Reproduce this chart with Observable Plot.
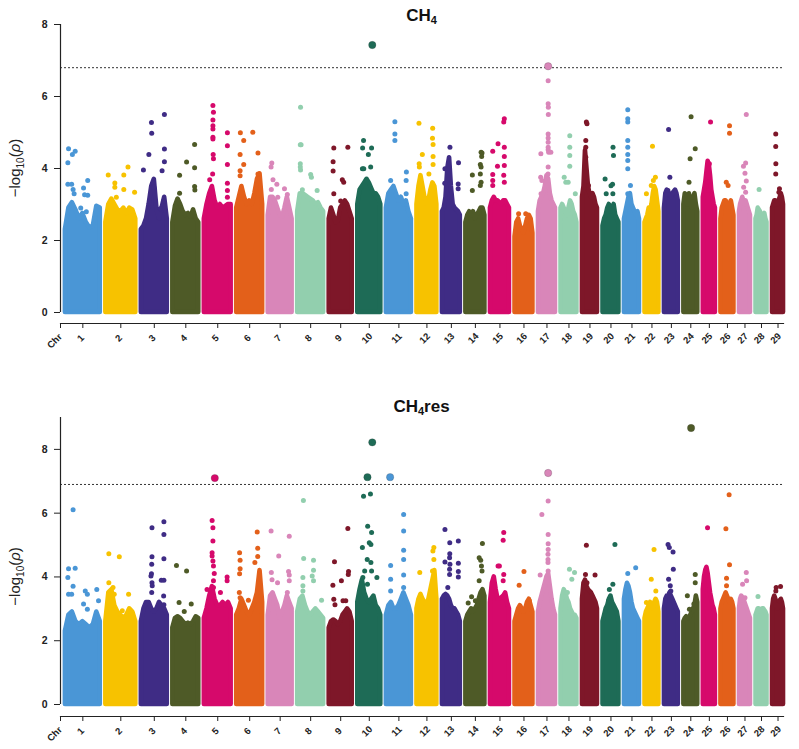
<!DOCTYPE html>
<html><head><meta charset="utf-8">
<script src="https://cdn.jsdelivr.net/npm/d3@7"></script>
<script src="https://cdn.jsdelivr.net/npm/@observablehq/plot@0.6"></script>
<style>
body{margin:0;background:#fff;font-family:"Liberation Sans",Arial,sans-serif;}
#wrap{position:relative;width:799px;height:749px;overflow:hidden;background:#fff;}
.title{position:absolute;left:60px;width:723px;text-align:center;font-weight:bold;font-size:17px;color:#111;line-height:1;}
.title sub{font-size:11px;vertical-align:baseline;position:relative;top:3px;}
.panel{position:absolute;left:0;}
</style></head>
<body><div id="wrap"></div>
<script>
// ---------- data ----------
const chromosomes = d3.range(1, 30);
const chrLengthMb = [156,134,116,116,120,116,107,116,103,103,112,89,80,85,85,80,76,71,67,71,67,62,62,62,54,58,49,49,49];
const chrColors = ["#4a96d6","#f7c200","#3f2c85","#4e5a27","#d6096b","#e3601a","#d986b9","#92cfae","#7e1729","#1e6b56"];
const ch4Threshold = 6.8;
const resThreshold = 6.9;

// upper edge of the dense SNP mass, sampled evenly along each chromosome
const ch4Envelope = [
[2.3,2.9,3.05,2.85,2.6,2.75,2.5,2.35,2.4,2.95,2.9],
[2.5,3.0,3.15,3.0,2.85,2.8,2.9,2.75,2.9,2.85,2.6],
[2.3,2.4,2.6,3.0,3.5,3.7,2.9,2.6,2.9,3.2,2.6],
[2.5,2.95,3.15,3.0,2.8,2.7,2.75,2.65,2.85,2.6,2.5],
[2.6,3.0,3.3,3.5,3.1,2.9,3.0,2.9,2.95,3.0,3.0],
[2.9,3.2,3.5,3.2,3.0,3.1,3.0,3.3,3.7,3.85,3.0],
[2.7,3.2,3.2,3.1,2.9,2.7,2.65,2.9,3.2,2.9,2.6],
[2.8,3.3,3.3,3.25,3.2,3.15,3.1,3.0,3.05,2.9,2.8],
[2.6,2.9,2.7,2.5,2.55,2.9,3.0,3.1,3.0,2.8,2.6],
[3.0,3.4,3.5,3.6,3.7,3.6,3.45,3.3,3.3,3.2,3.0],
[2.9,3.3,3.4,3.5,3.3,3.1,3.2,3.0,3.1,2.8,2.6],
[3.0,3.5,3.8,3.5,3.2,3.0,3.1,3.4,3.6,3.5,3.0],
[2.8,2.9,3.2,4.0,4.3,3.5,3.0,2.9,2.85,2.8,2.7],
[2.5,2.7,2.8,2.7,2.8,2.6,2.7,2.8,2.9,2.9,2.7],
[2.9,3.1,3.2,3.1,3.1,3.05,3.0,3.1,3.1,3.0,2.9],
[2.1,2.5,2.6,2.4,2.3,2.2,2.4,2.6,2.7,2.6,2.2],
[2.8,3.1,3.2,3.3,3.5,3.8,3.7,3.3,3.1,3.0,2.9],
[2.9,3.0,2.9,2.8,2.7,2.9,3.1,3.0,2.8,2.7,2.5],
[3.2,3.5,4.5,4.0,3.5,3.3,3.2,3.3,3.2,3.0,2.9],
[2.4,2.6,2.7,2.9,3.0,2.8,2.9,3.0,2.7,2.6,2.5],
[2.6,2.8,3.0,3.2,3.3,3.0,2.9,2.8,2.7,2.8,2.6],
[2.5,2.6,2.7,2.9,2.8,3.0,3.3,3.5,3.4,3.1,2.8],
[2.9,3.3,3.4,3.3,3.3,3.2,3.3,3.35,3.4,3.3,3.1],
[3.0,3.3,3.2,3.0,3.3,3.0,2.9,3.2,3.3,3.0,2.8],
[3.2,3.4,3.6,3.9,4.2,4.1,3.8,3.4,3.2,3.0,2.9],
[2.6,2.9,3.0,3.1,3.1,3.0,2.9,3.0,3.1,2.9,2.7],
[2.8,3.0,3.1,3.2,3.1,3.0,3.1,3.0,2.9,2.8,2.7],
[2.6,2.7,2.9,2.85,2.8,2.7,2.6,2.7,2.75,2.6,2.5],
[2.9,3.0,3.1,3.1,3.0,3.0,3.1,3.2,3.3,3.2,3.0]
];

// scattered SNPs above the mass: [chromosome, relative position, -log10 p]
const ch4Hits = [
[1,.09,4.55],[1,.07,4.16],[1,.2,4.39],[1,.28,4.48],[1,.07,3.56],[1,.18,3.56],[1,.22,3.42],[1,.52,3.46],[1,.64,3.67],[1,.55,3.27],[1,.64,3.26],[1,.25,3.3],[1,.44,2.9],[1,.6,2.8],
[2,.08,3.82],[2,.3,3.6],[2,.3,3.48],[2,.6,3.82],[2,.74,4.04],[2,.6,3.42],[2,.96,3.34],[2,.35,3.2],
[3,.08,3.96],[3,.29,4.39],[3,.39,5.28],[3,.4,4.98],[3,.89,5.5],[3,.89,4.54],[3,.89,4.19],[3,.46,3.59],[3,.48,3.48],[3,.8,3.94],[3,.86,3.1],[3,.73,2.88],
[4,.26,3.81],[4,.26,3.31],[4,.53,4.18],[4,.84,4.67],[4,.84,4.02],[4,.84,3.5],[4,.85,3.4],
[5,.32,5.75],[5,.34,5.56],[5,.32,5.35],[5,.32,5.19],[5,.32,5.1],[5,.32,4.87],[5,.32,4.82],[5,.33,4.39],[5,.34,4.27],[5,.31,3.85],[5,.2,3.69],[5,.86,4.99],[5,.86,4.63],[5,.86,4.11],[5,.86,3.59],[5,.86,3.39],[5,.86,3.2],
[6,.14,4.99],[6,.27,4.78],[6,.13,4.39],[6,.27,4.11],[6,.13,3.94],[6,.13,3.8],[6,.62,5.01],[6,.82,4.43],[6,.82,3.85],
[7,.15,4.15],[7,.12,4.04],[7,.2,3.69],[7,.36,3.56],[7,.13,3.42],[7,.4,3.2],[7,.68,3.44],[7,.8,3.28],[7,.8,3.04],
[8,.11,5.7],[8,.13,4.66],[8,.1,4.66],[8,.1,4.13],[8,.1,4.04],[8,.11,3.96],[8,.5,3.83],[8,.53,3.76],[8,.18,3.41],[8,.75,3.39],
[9,.2,4.57],[9,.17,4.19],[9,.17,3.93],[9,.81,4.59],[9,.57,3.69],[9,.63,3.62],[9,.2,3.3],[9,.5,3.1],
[10,.63,7.43],[10,.25,4.78],[10,.6,4.57],[10,.21,4.57],[10,.46,4.39],[10,.2,3.99],[10,.26,3.99],[10,.56,4.04],[10,.8,3.2],
[11,.34,5.3],[11,.34,4.96],[11,.34,4.78],[11,.8,3.9],[11,.79,3.67],[11,.79,3.3],[11,.8,3.0],[11,.17,3.67],
[12,.1,5.26],[12,.79,5.12],[12,.78,4.84],[12,.81,4.67],[12,.27,4.39],[12,.81,4.33],[12,.81,4.11],[12,.11,4.13],[12,.12,4.04],[12,.6,3.85],
[13,.42,4.59],[13,.9,4.16],[13,.14,3.99],[13,.13,3.59],[13,.88,3.57],[13,.88,3.44],
[14,.8,4.45],[14,.85,4.43],[14,.83,4.33],[14,.76,4.11],[14,.8,4.04],[14,.34,3.82],[14,.76,3.85],[14,.8,3.62],[14,.76,3.53],[14,.34,3.39],
[15,.73,5.38],[15,.7,5.29],[15,.4,4.69],[15,.12,4.48],[15,.73,4.59],[15,.73,4.33],[15,.73,4.08],[15,.37,4.06],[15,.12,3.83],[15,.7,3.81],[15,.12,3.67],[15,.73,3.62],[15,.12,3.53],
[16,.2,2.74],[16,.6,2.74],
[17,.57,6.84],[17,.57,6.44],[17,.57,5.8],[17,.58,5.7],[17,.58,5.5],[17,.57,4.96],[17,.57,4.85],[17,.57,4.73],[17,.57,4.59],[17,.57,4.52],[17,.6,4.45],[17,.73,4.45],[17,.14,4.41],[17,.57,4.04],[17,.56,3.85],[17,.13,3.76],[17,.2,3.67],[17,.15,3.3],
[18,.55,4.91],[18,.55,4.59],[18,.55,4.36],[18,.55,4.06],[18,.2,3.76],[18,.3,3.62],[18,.45,3.62],[18,.9,3.3],
[19,.26,5.29],[19,.3,5.24],[19,.22,4.78],[19,.22,4.59],[19,.22,4.31],[19,.4,3.53],
[20,.63,4.59],[20,.66,4.36],[20,.13,3.71],[20,.5,3.52],[20,.6,3.56],[20,.2,3.3],[20,.62,3.3],
[21,.22,5.63],[21,.22,5.38],[21,.22,5.29],[21,.22,4.78],[21,.22,4.59],[21,.22,4.39],[21,.22,4.22],[21,.22,3.99],[21,.4,3.53],[21,.22,3.3],
[22,.54,4.62],[22,.6,3.67],[22,.75,3.76],[22,.1,3.3],[22,.45,3.53],
[23,.3,5.08],[23,.39,3.76],[23,.25,3.39],
[24,.52,5.44],[24,.82,4.55],[24,.45,4.27],[24,.37,3.62],[24,.6,3.2],
[25,.6,5.29],[25,.5,4.13],[25,.4,3.62],[25,.45,3.39],
[26,.66,5.19],[26,.66,4.98],[26,.41,3.62],[26,.55,3.53],
[27,.62,5.5],[27,.56,4.15],[27,.36,4.06],[27,.5,3.87],[27,.62,3.65],[27,.38,3.48],[27,.56,3.34],
[28,.28,3.42],
[29,.29,4.96],[29,.29,4.61],[29,.3,4.13],[29,.29,3.85],[29,.63,3.44],[29,.58,3.34]
];

const resEnvelope = [
[2.3,2.8,2.9,2.6,2.5,2.6,2.5,2.4,2.5,2.9,2.6],
[2.6,3.5,3.6,3.1,2.9,2.8,2.7,2.8,3.0,2.9,2.6],
[2.6,3.0,3.2,3.2,3.0,2.9,3.0,3.2,3.1,3.0,2.8],
[2.4,2.7,2.75,2.7,2.6,2.5,2.55,2.5,2.6,2.75,2.7],
[2.7,3.0,3.4,3.7,3.3,3.1,3.1,3.2,3.1,3.2,3.0],
[2.8,3.0,3.3,3.1,2.9,2.8,3.0,3.2,3.5,4.2,3.2],
[2.8,3.4,3.5,3.3,3.1,2.7,2.9,3.1,3.4,3.2,3.0],
[2.9,3.3,3.4,3.1,2.9,2.8,2.9,3.0,2.9,2.8,2.7],
[2.4,2.6,2.65,2.6,2.5,2.6,2.8,2.9,3.0,2.9,2.6],
[3.2,3.6,3.9,3.5,3.3,3.2,3.3,3.4,3.1,3.0,2.8],
[2.8,3.1,3.2,3.0,3.0,3.1,3.3,3.5,3.3,3.1,2.8],
[3.0,3.3,3.45,3.3,3.2,3.1,3.3,3.6,3.9,4.2,3.3],
[3.3,3.4,3.45,3.4,3.3,3.1,3.0,3.0,2.9,2.8,2.6],
[2.6,2.8,2.9,3.0,2.9,3.0,3.1,3.3,3.5,3.6,3.4],
[3.2,3.8,4.0,3.6,3.3,3.3,3.35,3.4,3.5,3.2,3.0],
[2.6,2.8,3.0,3.1,3.0,2.9,3.0,3.2,3.3,3.1,2.9],
[2.9,3.2,3.4,3.6,3.8,4.0,4.1,3.7,3.3,3.0,2.8],
[3.0,3.4,3.6,3.5,3.3,3.2,3.0,2.9,2.8,2.8,2.7],
[3.3,3.8,3.9,3.7,3.6,3.55,3.5,3.4,3.3,3.2,3.0],
[2.6,2.8,3.0,3.1,3.3,3.4,3.2,3.1,3.0,2.9,2.6],
[3.3,3.6,3.8,3.7,3.5,3.2,3.0,2.9,2.8,2.7,2.6],
[2.7,2.9,3.0,3.1,3.2,3.1,3.0,3.2,3.3,3.2,2.9],
[3.0,3.3,3.4,3.4,3.5,3.4,3.3,3.2,3.1,3.0,2.9],
[2.6,2.7,2.75,2.7,2.7,2.8,2.9,3.0,3.1,3.4,3.2],
[3.6,4.0,4.2,4.3,4.1,3.8,3.5,3.3,3.1,3.0,2.8],
[3.0,3.2,3.3,3.4,3.5,3.4,3.3,3.2,3.3,3.2,3.0],
[3.0,3.3,3.4,3.35,3.3,3.2,3.1,3.0,2.9,2.8,2.7],
[2.8,2.9,3.0,3.0,2.9,2.9,3.0,3.0,2.95,2.9,2.8],
[3.0,3.3,3.4,3.3,3.1,3.0,3.1,3.2,3.3,3.2,3.0]
];

const resHits = [
[1,.22,6.11],[1,.09,4.26],[1,.28,4.27],[1,.07,3.98],[1,.22,3.71],[1,.09,3.46],[1,.18,3.46],[1,.57,3.56],[1,.63,3.46],[1,.52,3.15],[1,.9,3.61],[1,.95,3.25],[1,.63,2.99],
[2,.1,4.73],[2,.45,4.63],[2,.1,3.82],[2,.24,3.67],[2,.28,3.46],[2,.76,3.46],[2,.55,2.94],
[3,.41,5.54],[3,.87,5.73],[3,.87,5.33],[3,.41,4.63],[3,.4,4.4],[3,.39,4.1],[3,.37,4.03],[3,.41,3.82],[3,.42,3.72],[3,.4,3.51],[3,.77,3.9],[3,.87,3.9],[3,.87,4.57],[3,.86,3.4],[3,.87,3.13],
[4,.14,4.36],[4,.53,4.19],[4,.24,3.2],[4,.44,2.92],[4,.71,3.15],
[5,.39,7.1],[5,.29,5.77],[5,.32,5.54],[5,.32,5.13],[5,.29,4.76],[5,.29,4.66],[5,.32,4.5],[5,.34,4.34],[5,.37,4.11],[5,.34,3.88],[5,.34,3.67],[5,.1,3.61],[5,.85,4.0],[5,.85,3.88],[5,.6,3.51],
[6,.11,4.76],[6,.13,4.52],[6,.13,4.26],[6,.11,4.1],[6,.79,5.41],[6,.81,4.9],[6,.81,4.64],[6,.7,4.45],[6,.1,3.51],[6,.13,3.35],[6,.45,3.27],
[7,.12,5.44],[7,.44,4.66],[7,.13,4.14],[7,.16,3.91],[7,.39,3.82],[7,.88,5.28],[7,.85,4.17],[7,.88,4.06],[7,.88,3.88],[7,.8,3.51],
[8,.22,6.4],[8,.23,4.58],[8,.61,4.52],[8,.61,4.21],[8,.56,4.03],[8,.2,3.98],[8,.61,3.88],[8,.2,3.72],[8,.2,3.56],[8,.92,3.27],
[9,.81,5.52],[9,.23,4.48],[9,.16,3.74],[9,.53,3.88],[9,.84,4.17],[9,.83,4.08],[9,.2,3.3],[9,.25,3.13],[9,.6,3.25],[9,.72,3.25],
[10,.63,8.22],[10,.42,7.13],[10,.25,6.53],[10,.55,6.6],[10,.43,5.59],[10,.6,5.39],[10,.5,5.07],[10,.57,5.02],[10,.2,4.92],[10,.41,4.55],[10,.57,4.45],[10,.3,4.19],[10,.6,4.19],[10,.83,3.98],[10,.22,3.98],[10,.42,3.77],
[11,.15,7.13],[11,.69,5.96],[11,.69,5.44],[11,.69,4.84],[11,.69,4.55],[11,.69,4.06],[11,.69,3.67],[11,.17,4.36],[11,.17,3.93],[11,.17,3.56],
[12,.85,4.92],[12,.8,4.81],[12,.85,4.55],[12,.14,4.14],[12,.78,4.19],
[13,.14,5.49],[13,.41,5.07],[13,.89,5.13],[13,.41,4.73],[13,.4,4.6],[13,.14,4.47],[13,.42,4.4],[13,.89,4.43],[13,.4,4.24],[13,.89,4.17],[13,.4,4.08],[13,.89,4.0],[13,.3,3.67],
[14,.87,5.05],[14,.7,4.6],[14,.78,4.52],[14,.82,4.34],[14,.85,4.19],[14,.7,3.88],[14,.12,3.18],[14,.3,3.38],[14,.5,3.25],
[15,.7,5.39],[15,.67,5.15],[15,.4,4.34],[15,.47,4.34],[15,.7,4.08],[15,.67,3.88],
[16,.5,4.17],[16,.23,3.74],[16,.8,3.25],
[17,.57,7.26],[17,.57,6.38],[17,.2,5.96],[17,.57,5.33],[17,.57,5.04],[17,.57,4.86],[17,.56,4.71],[17,.56,4.55],[17,.56,4.45],[17,.1,4.06],[17,.57,4.19],
[18,.53,4.24],[18,.85,4.14],[18,.68,3.93],[18,.4,3.51],
[19,.26,4.99],[19,.84,4.06],[19,.3,3.82],[19,.2,4.08],
[20,.75,5.02],[20,.62,3.77],[20,.4,3.61],[20,.35,3.25],
[21,.75,4.29],[21,.22,4.11],
[22,.65,4.86],[22,.45,3.93],[22,.78,3.56],[22,.1,3.2],
[23,.26,5.02],[23,.35,4.92],[23,.62,4.78],[23,.64,4.24],[23,.3,3.93],[23,.42,3.72],[23,.46,3.56],
[24,.52,8.67],[24,.82,4.08],[24,.82,3.82],[24,.25,3.41],[24,.4,2.99],[24,.72,3.15],
[25,.35,5.54],[25,.2,4.21],
[26,.63,6.58],[26,.38,5.51],[26,.66,4.38],[26,.43,3.96],[26,.43,3.72],
[27,.62,4.14],[27,.65,3.88],[27,.28,3.77],[27,.5,3.35],
[28,.18,3.39],
[29,.73,3.7],[29,.33,3.67],[29,.3,3.56],[29,.6,3.25]
];

const yTicks = [0,2,4,6,8];

// ---------- layout ----------
const GAP_MB = 25, LEAD_MB = 22;
const chrStart = [];
{ let acc = 0; chrLengthMb.forEach(len => { chrStart.push(acc); acc += len + GAP_MB; }); }
const genomeEnd = chrStart[28] + chrLengthMb[28];
const xOf = (chr, pos) => chrStart[chr-1] + pos * chrLengthMb[chr-1];
const colorOf = chr => chrColors[(chr-1) % 10];
const FONT = '"Liberation Sans", Arial, sans-serif';

const tickData = [{x: -LEAD_MB, label: "Chr"}].concat(
  chromosomes.map(c => ({x: chrStart[c-1] + chrLengthMb[c-1]/2, label: String(c)})));

function panel({envelope, hits, threshold, yTop, height, zeroPx, topPx, marginBottom}) {
  const envRows = [];
  envelope.forEach((vals, i) => vals.forEach((v, j) =>
    envRows.push({chr: i+1, x: xOf(i+1, j/(vals.length-1)), y: v})));
  const hitRows = hits.map(([chr, pos, v]) => ({chr, x: xOf(chr, pos), y: v}));
  const small = hitRows.filter(d => d.y <= threshold);
  const big = hitRows.filter(d => d.y > threshold);
  const plot = Plot.plot({
    width: 799, height, marginLeft: 60, marginRight: 16, marginTop: topPx, marginBottom,
    x: {domain: [-LEAD_MB, genomeEnd], axis: null},
    y: {domain: [0, yTop], range: [zeroPx, topPx], axis: null},
    color: {type: "identity"},
    style: {fontFamily: FONT, background: "transparent", overflow: "visible"},
    marks: [
      Plot.areaY(envRows, {x: "x", y: "y", z: "chr", fill: d => colorOf(d.chr), stroke: d => colorOf(d.chr),
        strokeWidth: 4.6, strokeLinejoin: "round"}),
      Plot.dot(small, {x: "x", y: "y", r: 2.5, fill: d => colorOf(d.chr)}),
      Plot.ruleY([threshold], {stroke: "#333", strokeWidth: 1, strokeDasharray: "2,2"}),
      Plot.dot(big, {x: "x", y: "y", r: 3.7, fill: d => colorOf(d.chr), stroke: "#333", strokeOpacity: 0.35, strokeWidth: 0.6}),
      Plot.ruleX([-LEAD_MB], {y1: 0, y2: yTop, stroke: "#222", strokeWidth: 1.2}),
      Plot.axisY({ticks: yTicks, tickSize: 6, tickPadding: 7, fontSize: 10.5, fontWeight: "bold", label: null, stroke: "#222", fill: "#222"}),
      Plot.frame({anchor: "bottom", stroke: "#222", strokeWidth: 1.2}),
      Plot.axisX({ticks: tickData.map(d => d.x), tickSize: 5, tickFormat: () => "", label: null, stroke: "#222"}),
      Plot.text(tickData.slice(1), {x: "x", text: "label", frameAnchor: "bottom", dy: 17, rotate: -45,
        fontSize: 9.5, fontWeight: "bold", fill: "#222"}),
      Plot.text(tickData.slice(0, 1), {x: "x", text: "label", frameAnchor: "bottom", dx: 2, dy: 14, rotate: -45,
        textAnchor: "end", fontSize: 9.5, fontWeight: "bold", fill: "#222"})
    ]
  });
  const yS = plot.scale("y");
  const t = d3.select(plot).append("text")
    .attr("transform", `translate(20,${yS.apply(yTicks[yTicks.length-1]/2)}) rotate(-90)`)
    .attr("text-anchor", "middle").attr("font-size", 15).attr("font-family", FONT).attr("fill", "#222");
  t.append("tspan").text("\u2212log");
  t.append("tspan").attr("font-size", 10).attr("dy", 4).text("10");
  t.append("tspan").attr("dy", -4).text("(");
  t.append("tspan").attr("font-style", "italic").text("\u03c1");
  t.append("tspan").text(")");
  return plot;
}

const wrap = document.getElementById("wrap");
function addTitle(html, top) {
  const d = document.createElement("div");
  d.className = "title"; d.style.top = top + "px"; d.innerHTML = html;
  wrap.appendChild(d);
}
function addPanel(plot, top) {
  const d = document.createElement("div");
  d.className = "panel"; d.style.top = top + "px";
  d.appendChild(plot); wrap.appendChild(d);
}

addPanel(panel({envelope: ch4Envelope, hits: ch4Hits, threshold: ch4Threshold, yTop: 8,
  height: 360, zeroPx: 312, topPx: 24, marginBottom: 37}), 0);
addPanel(panel({envelope: resEnvelope, hits: resHits, threshold: resThreshold, yTop: 9,
  height: 357, zeroPx: 312, topPx: 25, marginBottom: 33}), 392);
addTitle("CH<sub>4</sub>", 7);
addTitle("CH<sub>4</sub>res", 398);
</script>
</body></html>
